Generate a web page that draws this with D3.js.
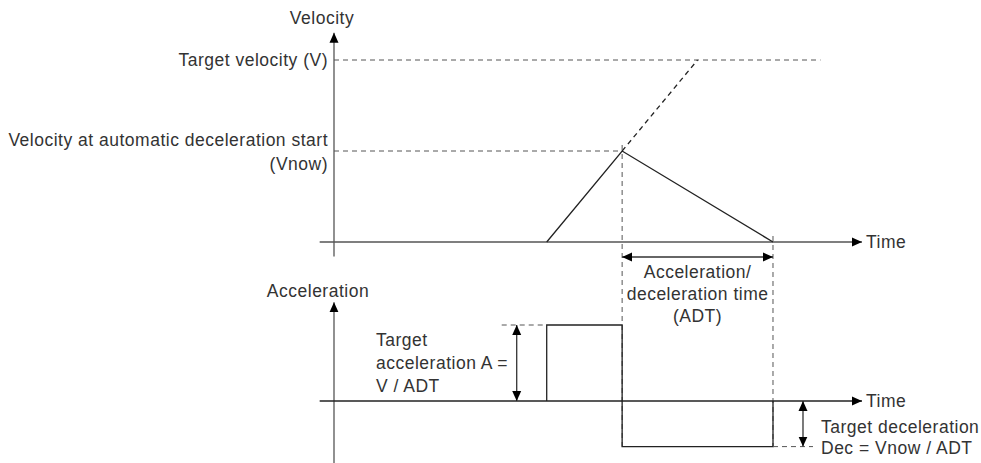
<!DOCTYPE html>
<html>
<head>
<meta charset="utf-8">
<script src="https://cdn.jsdelivr.net/npm/d3@7"></script>
<style>
  body { margin: 0; background: #fff; }
  text { font-family: "Liberation Sans", Arial, sans-serif; font-size: 17.5px; letter-spacing: 0.5px; fill: #333; }
</style>
</head>
<body>
<svg id="chart"></svg>
<script>
// time markers (arbitrary units)
const timeAxis = [-0.19, 7];          // axis start / arrow tip
const tStart = 2.82;                  // ramp start
const tDecStart = 3.82;               // automatic deceleration start
const tReachV = 4.82;                 // where target velocity would be reached
const tEnd = 5.82;                    // deceleration end
const tVLineEnd = 6.45;               // end of target velocity guide

// velocity values
const velV = 100, velNow = 50;
const velAxis = [-8, 115];
const velProfile = [[tStart, 0], [tDecStart, velNow], [tEnd, 0]];

// acceleration values
const accA = 50, accDec = -30;
const accAxis = [-41, 65];
const accProfile = [[tStart, 0], [tStart, accA], [tDecStart, accA],
  [tDecStart, accDec], [tEnd, accDec], [tEnd, 0]];

const width = 981, height = 463;
const svg = d3.select('#chart').attr('width', width).attr('height', height);

const x = d3.scaleLinear().domain([0, 7]).range([334, 862]);
const yV = d3.scaleLinear().domain([0, velV]).range([242, 60]);
const yA = d3.scaleLinear().domain([0, accA]).range([401, 325]);

const axisColor = '#555', lineColor = '#222', dashColor = '#555';
const dash = '5,4';

const defs = svg.append('defs');
defs.append('marker')
  .attr('id', 'arrow')
  .attr('viewBox', '0 0 10 10')
  .attr('refX', 10).attr('refY', 5)
  .attr('markerUnits', 'userSpaceOnUse')
  .attr('markerWidth', 10).attr('markerHeight', 10)
  .attr('orient', 'auto-start-reverse')
  .append('path').attr('d', 'M0,0.5 L10,5 L0,9.5 Z').attr('fill', '#000');

function line(x1, y1, x2, y2, opts = {}) {
  const l = svg.append('line')
    .attr('x1', x1).attr('y1', y1).attr('x2', x2).attr('y2', y2)
    .attr('stroke', opts.color || lineColor)
    .attr('stroke-width', opts.w || 1.3);
  if (opts.dash) l.attr('stroke-dasharray', opts.dash);
  if (opts.end) l.attr('marker-end', 'url(#arrow)');
  if (opts.start) l.attr('marker-start', 'url(#arrow)');
  return l;
}

function label(lines, tx, ty, anchor, lh = 22) {
  const t = svg.append('text').attr('text-anchor', anchor);
  lines.forEach((s, i) => t.append('tspan').attr('x', tx).attr('y', ty + i * lh).text(s));
}

// ---- velocity chart ----
line(x(0), yV(velAxis[0]), x(0), yV(velAxis[1]), { color: axisColor, end: true });
line(x(timeAxis[0]), yV(0), x(timeAxis[1]), yV(0), { color: axisColor, end: true });
label(['Velocity'], x(0) - 12, 24, 'middle');
label(['Time'], x(timeAxis[1]) + 4, yV(0) + 6, 'start');

line(x(0), yV(velV), x(tVLineEnd), yV(velV), { color: dashColor, dash: dash, w: 1 });
line(x(0), yV(velNow), x(tDecStart), yV(velNow), { color: dashColor, dash: dash, w: 1 });
line(x(tDecStart), yV(velNow), x(tReachV), yV(velV), { color: lineColor, dash: dash, w: 1.3 });

svg.append('path')
  .datum(velProfile)
  .attr('fill', 'none')
  .attr('stroke', lineColor)
  .attr('stroke-width', 1.3)
  .attr('d', d3.line().x(d => x(d[0])).y(d => yV(d[1])));

label(['Target velocity (V)'], x(0) - 6, yV(velV) + 6, 'end');
label(['Velocity at automatic deceleration start', '(Vnow)'], x(0) - 6, yV(velNow) - 5, 'end', 24);

// vertical guides through both charts
line(x(tDecStart), yV(velNow) - 6, x(tDecStart), yA(accDec), { color: dashColor, dash: dash, w: 1 });
line(x(tEnd), yV(0) - 6, x(tEnd), yA(accDec), { color: dashColor, dash: dash, w: 1 });

// ADT span
line(x(tDecStart), 257, x(tEnd), 257, { color: '#333', start: true, end: true });
label(['Acceleration/', 'deceleration time', '(ADT)'], (x(tDecStart) + x(tEnd)) / 2, 278, 'middle', 22);

// ---- acceleration chart ----
line(x(0), yA(accAxis[0]), x(0), yA(accAxis[1]), { color: axisColor, end: true });
line(x(timeAxis[0]), yA(0), x(timeAxis[1]), yA(0), { color: lineColor, end: true });
label(['Acceleration'], x(0) - 16, 297, 'middle');
label(['Time'], x(timeAxis[1]) + 4, yA(0) + 6, 'start');

svg.append('path')
  .datum(accProfile)
  .attr('fill', 'none')
  .attr('stroke', lineColor)
  .attr('stroke-width', 1.3)
  .attr('d', d3.line().x(d => x(d[0])).y(d => yA(d[1])));

// target acceleration annotation
line(x(tStart) - 45, yA(accA), x(tStart), yA(accA), { color: dashColor, dash: dash, w: 1 });
line(x(tStart) - 30, yA(accA), x(tStart) - 30, yA(0), { color: '#333', start: true, end: true });
label(['Target', 'acceleration A =', 'V / ADT'], 376, 346, 'start', 23);

// target deceleration annotation
line(x(tEnd), yA(accDec), x(tEnd) + 40, yA(accDec), { color: dashColor, dash: dash, w: 1 });
line(x(tEnd) + 30, yA(0), x(tEnd) + 30, yA(accDec), { color: '#333', start: true, end: true });
label(['Target deceleration', 'Dec = Vnow / ADT'], 821, 433, 'start', 21);
</script>
</body>
</html>
